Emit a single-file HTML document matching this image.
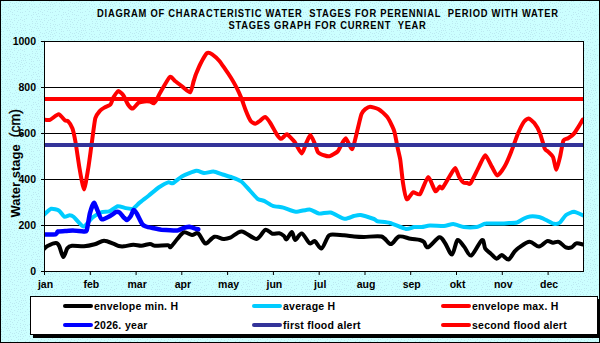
<!DOCTYPE html>
<html><head><meta charset="utf-8"><style>
html,body{margin:0;padding:0;width:600px;height:343px;overflow:hidden;background:#ccffff}
svg{display:block}
text{font-family:"Liberation Sans",sans-serif;font-weight:bold;fill:#000}
</style></head><body>
<svg width="600" height="343" viewBox="0 0 600 343">
<defs>
<pattern id="dots" width="30" height="30" patternUnits="userSpaceOnUse"><rect width="30" height="30" fill="#ccffff"/><g fill="#bce9f1"><rect x="0" y="8" width="1" height="1"/><rect x="0" y="26" width="1" height="1"/><rect x="1" y="1" width="1" height="1"/><rect x="1" y="4" width="1" height="1"/><rect x="1" y="15" width="1" height="1"/><rect x="1" y="19" width="1" height="1"/><rect x="1" y="29" width="1" height="1"/><rect x="2" y="6" width="1" height="1"/><rect x="2" y="9" width="1" height="1"/><rect x="2" y="17" width="1" height="1"/><rect x="2" y="21" width="1" height="1"/><rect x="2" y="23" width="1" height="1"/><rect x="2" y="27" width="1" height="1"/><rect x="3" y="1" width="1" height="1"/><rect x="3" y="12" width="1" height="1"/><rect x="3" y="14" width="1" height="1"/><rect x="4" y="4" width="1" height="1"/><rect x="4" y="7" width="1" height="1"/><rect x="4" y="27" width="1" height="1"/><rect x="5" y="12" width="1" height="1"/><rect x="5" y="19" width="1" height="1"/><rect x="5" y="23" width="1" height="1"/><rect x="5" y="25" width="1" height="1"/><rect x="6" y="6" width="1" height="1"/><rect x="6" y="14" width="1" height="1"/><rect x="6" y="21" width="1" height="1"/><rect x="6" y="28" width="1" height="1"/><rect x="7" y="0" width="1" height="1"/><rect x="7" y="16" width="1" height="1"/><rect x="7" y="19" width="1" height="1"/><rect x="7" y="23" width="1" height="1"/><rect x="7" y="26" width="1" height="1"/><rect x="8" y="7" width="1" height="1"/><rect x="8" y="10" width="1" height="1"/><rect x="8" y="13" width="1" height="1"/><rect x="8" y="28" width="1" height="1"/><rect x="9" y="0" width="1" height="1"/><rect x="9" y="4" width="1" height="1"/><rect x="9" y="16" width="1" height="1"/><rect x="9" y="19" width="1" height="1"/><rect x="10" y="2" width="1" height="1"/><rect x="10" y="6" width="1" height="1"/><rect x="10" y="11" width="1" height="1"/><rect x="10" y="21" width="1" height="1"/><rect x="10" y="24" width="1" height="1"/><rect x="10" y="26" width="1" height="1"/><rect x="11" y="9" width="1" height="1"/><rect x="11" y="19" width="1" height="1"/><rect x="12" y="3" width="1" height="1"/><rect x="12" y="12" width="1" height="1"/><rect x="12" y="14" width="1" height="1"/><rect x="12" y="22" width="1" height="1"/><rect x="12" y="27" width="1" height="1"/><rect x="13" y="6" width="1" height="1"/><rect x="13" y="24" width="1" height="1"/><rect x="14" y="3" width="1" height="1"/><rect x="14" y="10" width="1" height="1"/><rect x="14" y="14" width="1" height="1"/><rect x="14" y="18" width="1" height="1"/><rect x="14" y="20" width="1" height="1"/><rect x="14" y="27" width="1" height="1"/><rect x="15" y="0" width="1" height="1"/><rect x="15" y="5" width="1" height="1"/><rect x="16" y="2" width="1" height="1"/><rect x="16" y="7" width="1" height="1"/><rect x="16" y="15" width="1" height="1"/><rect x="16" y="18" width="1" height="1"/><rect x="16" y="24" width="1" height="1"/><rect x="17" y="11" width="1" height="1"/><rect x="17" y="22" width="1" height="1"/><rect x="17" y="27" width="1" height="1"/><rect x="17" y="29" width="1" height="1"/><rect x="18" y="3" width="1" height="1"/><rect x="18" y="6" width="1" height="1"/><rect x="18" y="9" width="1" height="1"/><rect x="18" y="15" width="1" height="1"/><rect x="18" y="20" width="1" height="1"/><rect x="19" y="1" width="1" height="1"/><rect x="20" y="4" width="1" height="1"/><rect x="20" y="6" width="1" height="1"/><rect x="20" y="9" width="1" height="1"/><rect x="20" y="12" width="1" height="1"/><rect x="20" y="19" width="1" height="1"/><rect x="20" y="23" width="1" height="1"/><rect x="20" y="25" width="1" height="1"/><rect x="20" y="27" width="1" height="1"/><rect x="21" y="0" width="1" height="1"/><rect x="21" y="2" width="1" height="1"/><rect x="21" y="17" width="1" height="1"/><rect x="22" y="4" width="1" height="1"/><rect x="22" y="8" width="1" height="1"/><rect x="22" y="12" width="1" height="1"/><rect x="22" y="20" width="1" height="1"/><rect x="22" y="28" width="1" height="1"/><rect x="23" y="0" width="1" height="1"/><rect x="23" y="6" width="1" height="1"/><rect x="23" y="24" width="1" height="1"/><rect x="24" y="3" width="1" height="1"/><rect x="24" y="15" width="1" height="1"/><rect x="24" y="19" width="1" height="1"/><rect x="24" y="21" width="1" height="1"/><rect x="24" y="26" width="1" height="1"/><rect x="25" y="0" width="1" height="1"/><rect x="25" y="5" width="1" height="1"/><rect x="25" y="11" width="1" height="1"/><rect x="25" y="24" width="1" height="1"/><rect x="25" y="28" width="1" height="1"/><rect x="26" y="2" width="1" height="1"/><rect x="26" y="15" width="1" height="1"/><rect x="26" y="18" width="1" height="1"/><rect x="27" y="9" width="1" height="1"/><rect x="27" y="25" width="1" height="1"/><rect x="28" y="14" width="1" height="1"/><rect x="29" y="3" width="1" height="1"/><rect x="29" y="6" width="1" height="1"/><rect x="29" y="11" width="1" height="1"/><rect x="29" y="24" width="1" height="1"/><rect x="29" y="29" width="1" height="1"/></g></pattern>
</defs>
<rect x="0" y="0" width="600" height="343" fill="url(#dots)"/>
<rect x="0.5" y="0.5" width="599" height="342" fill="none" stroke="#000" stroke-width="1"/>
<g transform="translate(97,0) scale(0.9,1)"><text x="0" y="17" font-size="10.4" xml:space="preserve" textLength="512.3" lengthAdjust="spacing">DIAGRAM OF CHARACTERISTIC WATER  STAGES FOR PERENNIAL  PERIOD WITH WATER</text></g>
<g transform="translate(228.5,0) scale(0.9,1)"><text x="0" y="29" font-size="10.4" xml:space="preserve" textLength="219.3" lengthAdjust="spacing">STAGES GRAPH FOR CURRENT  YEAR</text></g>
<clipPath id="pc"><rect x="45" y="42" width="538" height="229"/></clipPath>
<rect x="44.5" y="41.5" width="539" height="230" fill="#fff"/>
<g stroke="#000" stroke-width="1"><line x1="41" y1="87.5" x2="583.5" y2="87.5"/><line x1="41" y1="133.5" x2="583.5" y2="133.5"/><line x1="41" y1="179.5" x2="583.5" y2="179.5"/><line x1="41" y1="225.5" x2="583.5" y2="225.5"/>
<line x1="41" y1="41.5" x2="44" y2="41.5"/><line x1="41" y1="271.5" x2="44" y2="271.5"/><line x1="44.5" y1="271" x2="44.5" y2="275"/><line x1="90.3" y1="271" x2="90.3" y2="275"/><line x1="136.1" y1="271" x2="136.1" y2="275"/><line x1="181.8" y1="271" x2="181.8" y2="275"/><line x1="227.6" y1="271" x2="227.6" y2="275"/><line x1="273.4" y1="271" x2="273.4" y2="275"/><line x1="319.2" y1="271" x2="319.2" y2="275"/><line x1="365" y1="271" x2="365" y2="275"/><line x1="410.7" y1="271" x2="410.7" y2="275"/><line x1="456.5" y1="271" x2="456.5" y2="275"/><line x1="502.3" y1="271" x2="502.3" y2="275"/><line x1="548.1" y1="271" x2="548.1" y2="275"/></g>
<g font-size="10.5" text-anchor="end"><text x="36" y="45">1000</text><text x="36" y="91">800</text><text x="36" y="137">600</text><text x="36" y="183">400</text><text x="36" y="229">200</text><text x="36" y="275">0</text></g>
<g font-size="10.5" text-anchor="middle"><text x="45.5" y="288">jan</text><text x="91.3" y="288">feb</text><text x="137.1" y="288">mar</text><text x="182.8" y="288">apr</text><text x="228.6" y="288">may</text><text x="274.4" y="288">jun</text><text x="320.2" y="288">jul</text><text x="366" y="288">aug</text><text x="411.7" y="288">sep</text><text x="457.5" y="288">okt</text><text x="503.3" y="288">nov</text><text x="549.1" y="288">dec</text></g>
<text transform="translate(19.5,217.6) rotate(-90)" font-size="13" xml:space="preserve">Water stage  <tspan font-weight="normal" font-size="14" stroke="#000" stroke-width="0.35">(cm)</tspan></text>
<g clip-path="url(#pc)">
<g fill="none" stroke-linejoin="round" stroke-linecap="round" stroke-width="4">
<path stroke="#000" d="M44 249C44.6 248.5 46.2 246.6 48 245.7C49.8 244.8 54.3 242.9 56 243C57.7 243.1 58.2 244.2 59.3 246.3C60.4 248.4 62.1 256.7 63.3 257C64.5 257.3 66 250 67.3 248.3C68.6 246.6 69.5 246 72 245.7C74.5 245.4 80.6 246.5 84 246.3C87.4 246.1 91.7 245.1 94.7 244.3C97.7 243.5 101.2 240.8 104 240.7C106.8 240.6 111.1 242.9 113.3 243.7C115.5 244.5 117.1 245.6 118.7 246C120.3 246.4 121.8 246.5 124 246.3C126.2 246.1 130.7 244.8 133.3 244.7C135.9 244.6 138.8 245.8 141.3 245.7C143.8 245.6 148 243.9 150 243.9C152 243.9 152 245.5 154.7 245.7C157.4 245.9 165.6 245.1 168 245.3C170.4 245.5 169.3 247.9 170.7 247C172.1 246.1 175.3 241.2 177.3 239C179.3 236.8 181.8 232.9 184 232.3C186.2 231.7 189.9 234.8 192 235C194.1 235.2 196.2 232.2 198 233.3C199.8 234.4 202.7 240.8 204 242.3C205.3 243.8 205 244.1 206.6 243.3C208.2 242.5 212 237.4 214.5 236.7C217 236 220.9 238.8 223.3 238.9C225.7 239.1 227.5 238.8 230.3 237.7C233.1 236.6 237.8 231.2 241.7 231.4C245.6 231.6 253 239.1 256.5 238.9C260 238.7 262.9 230.6 265.3 229.8C267.7 229 270.2 233.2 272.3 233.7C274.4 234.2 277.5 232.9 279.3 233.2C281.1 233.5 282.9 235.1 284 236C285.1 236.9 285.4 239.9 286.6 239.3C287.8 238.7 290.6 232 291.9 232.1C293.2 232.2 293.7 239.8 295.2 240C296.7 240.2 299.5 232.9 301.7 233.4C303.9 233.9 307.6 242 309.6 243.2C311.6 244.4 313 240.4 314.8 241.2C316.6 242 319.5 249 321.4 248.5C323.3 248 325.9 240.1 327.3 238C328.7 235.9 328.1 235.1 330.6 234.7C333.1 234.3 340.5 235 344 235.3C347.5 235.6 351 236.2 354 236.5C357 236.8 359.9 237 364 237C368.1 237 377.5 235.4 381.5 236.5C385.5 237.6 388.2 244.1 390.8 244.1C393.4 244.1 396 237.3 399 236.5C402 235.7 407.5 238.3 410.6 238.8C413.8 239.3 418 239.5 420 240C422 240.5 422.8 240.9 424 242C425.2 243.1 425.7 248 428 247.3C430.3 246.6 436.8 237.9 439.3 237.3C441.9 236.7 443.1 240.4 445 243C446.9 245.6 450.1 254.9 452 254.5C453.9 254.1 455.7 241.2 457.5 240C459.3 238.8 461.9 244.2 464 246.5C466.1 248.8 468.6 256.5 471.3 255.5C474 254.5 479.9 241 482 240C484.1 239 484 246.7 485.3 248.7C486.6 250.7 488.9 252 490.6 253.5C492.3 255 495 258.5 496.7 258.7C498.4 258.9 500 255 501.8 255.1C503.6 255.2 506.6 260 508.5 259.5C510.4 259 512.9 253.4 514.5 251.6C516.1 249.8 516.9 248.9 519.2 247.4C521.5 245.9 526.6 241.9 529.6 241.8C532.6 241.7 536.4 246.6 539 246.5C541.6 246.4 545 241.7 547.1 241.1C549.2 240.5 551.2 242.6 553 242.7C554.8 242.8 556.9 241.1 558.8 241.8C560.7 242.5 563.9 246.6 565.8 247.4C567.7 248.2 570 248 571.6 247.4C573.2 246.8 574.5 243.8 576.3 243.4C578.1 243 582.2 244.4 583.3 244.6"/>
<path stroke="#00ccff" d="M44 214.7C44.7 214.1 49.7 209.2 51.2 208.8C52.7 208.4 57.8 209.9 59.1 210.7C60.4 211.5 63.2 216.2 64.3 216.7C65.3 217.2 68.7 215.3 69.6 215.3C70.5 215.3 72.1 215.6 73.5 216.7C74.9 217.8 81.5 226.4 83.4 226.5C85.3 226.6 90.8 218.7 92.6 217.3C94.4 215.9 100 212.7 101.7 212.1C103.4 211.5 107.6 212 109.2 211.4C110.8 210.8 116.1 206.5 117.7 206.2C119.3 205.9 124.1 207.8 125.6 208.1C127.1 208.4 131.4 209.3 132.8 208.8C134.2 208.3 137.8 204.2 139.4 202.9C141 201.6 146.6 197.3 148.6 195.7C150.6 194.1 157 188.6 159 187.3C161 186 166.9 182.8 168.3 182.4C169.7 182 171.6 183.7 173 183.1C174.4 182.5 180 177.4 182.3 176.2C184.6 175 194.1 171.1 196.3 170.8C198.5 170.5 202.3 173 204 173.1C205.7 173.2 211.4 171.4 213.3 171.5C215.2 171.6 220.7 173.9 222.6 174.5C224.5 175.1 230.1 176.6 232 177.3C233.9 178 239.6 180.2 241.3 181.5C243.1 182.8 247.9 188.4 249.5 190.1C251.1 191.8 256.1 197.7 257.6 198.8C259.1 199.9 263.1 200.4 264.6 201.1C266.1 201.8 270.9 205.2 272.8 205.8C274.7 206.5 281 207 283.3 207.6C285.6 208.2 293.1 211.6 295.7 211.8C298.3 212 307.3 209.2 309.6 209.4C311.9 209.6 316.9 213.3 319 213.6C321.1 213.9 328 212 330.6 212.5C333.2 213 342.3 218.5 344.6 218.8C346.9 219.2 352.3 216.4 353.9 216C355.5 215.6 358.7 214.7 360.7 215C362.7 215.3 372.3 218.4 374 219C375.7 219.6 375.7 220.9 377.3 221.3C378.9 221.7 387.1 222.2 390 223C392.9 223.8 403.6 228.6 406 229C408.4 229.4 412.4 227.2 414 227C415.6 226.8 420.4 227.2 422 227C423.6 226.8 427.8 225.6 430 225.5C432.2 225.4 441.7 226.1 444 226C446.3 225.9 451.3 224 453.3 224.1C455.3 224.2 461.5 226.8 463.8 227.1C466.1 227.4 474.4 227.4 476.6 227.1C478.8 226.8 483.4 223.9 486 223.6C488.6 223.2 500 223.7 502.3 223.6C504.6 223.5 507.5 223.1 509 223C510.5 222.9 515.5 222.9 517 222.5C518.5 222.1 522.7 219.1 524 218.5C525.3 217.9 528.5 216.7 530 216.5C531.5 216.3 537.4 216.7 539 217C540.6 217.3 544.5 219.3 546 220C547.5 220.7 552.7 223.6 554.1 223.8C555.5 224.1 558.8 223.4 560 222.5C561.2 221.6 564.6 216.1 566 215C567.4 213.9 572.3 211.8 574 211.8C575.7 211.9 582.4 215.1 583.3 215.5"/>
<path stroke="#ff0000" d="M44 119.7C44.6 119.7 48.5 120.3 50 119.8C51.5 119.3 57.1 114.2 58.6 114.3C60.1 114.4 64.1 119.8 65 120.5C65.9 121.2 67.2 120.4 68 121.2C68.8 122 71.8 126.7 72.6 128.8C73.3 130.9 74.8 138.1 75.5 142C76.2 145.9 78.6 162.8 79.4 167.6C80.2 172.3 83.1 189.5 84 189.5C84.9 189.5 87.5 172.4 88.3 168C89 163.6 90.8 150 91.5 145C92.2 140 94.5 121.7 95.3 118.3C96.1 114.9 99.1 111.9 100 110.8C100.9 109.7 103.7 108 104.7 107.4C105.8 106.8 109.6 105.5 110.5 104.5C111.4 103.5 112.6 98.8 113.4 97.5C114.2 96.2 117.1 91.3 118.1 91.1C119.1 90.9 122.3 93.9 123.3 95.2C124.3 96.5 127.1 103.2 128 104.5C128.9 105.8 131.6 108.8 132.7 108.6C133.8 108.4 137.3 103.5 138.5 102.8C139.7 102.1 143.1 101.5 144.3 101.4C145.5 101.3 149.3 101.4 150.2 101.6C151.1 101.8 153 103.6 153.7 103.3C154.4 103 156.6 99.7 157.2 98.7C157.8 97.7 158.7 95.2 160 93C161.3 90.8 168.3 78.2 169.8 77C171.3 75.8 173.8 80.1 175 81C176.2 81.9 180.5 85.2 182 86.3C183.5 87.4 189 92.8 190.2 92.3C191.4 91.8 193.1 82.8 193.7 81C194.3 79.2 195.3 75.7 196 74C196.7 72.3 199.4 65.8 200.5 63.7C201.6 61.6 205.7 54.1 206.9 53.2C208.1 52.3 211 53.5 212.2 54.3C213.4 55.1 217.9 59.3 219.2 60.8C220.5 62.3 223.8 67.2 225 68.9C226.2 70.6 229.6 75.6 230.8 77.5C232 79.4 235.5 85.5 236.6 87.6C237.7 89.7 240.4 95.8 241.3 98.1C242.2 100.4 245.1 108.7 246 111C246.9 113.3 249.7 119.5 250.6 120.8C251.5 122.1 254.4 123.8 255.3 123.8C256.2 123.8 259 121.5 260 120.8C261 120.1 264 116.7 265 116.9C266 117.1 269.3 121.4 270.4 123.1C271.5 124.8 275.3 132 276.3 133.6C277.3 135.2 279.9 138.5 280.7 138.8C281.5 139.1 283.4 136.9 284 136.5C284.6 136.1 286.1 133.9 287.2 134.4C288.2 134.9 293.1 139.9 294.5 141.8C295.9 143.7 300.5 153.4 301.7 153.5C302.9 153.6 305.4 144.8 306.3 143C307.2 141.2 309.5 135 310.4 135.1C311.2 135.2 314 141.9 314.8 143.6C315.6 145.3 317 151 318 152.2C319 153.4 323.6 155.1 324.8 155.5C326 155.9 328.6 156.5 329.9 156.1C331.2 155.7 336.6 152.6 337.7 151.5C338.8 150.4 340.3 146.6 341.1 145.3C341.9 144 344.7 137.9 345.8 138.3C346.9 138.7 351 149.9 352.2 149C353.4 148.1 356.8 132.5 357.7 129C358.6 125.5 360.7 116 361.5 114C362.3 112 364.4 109.9 365.3 109.2C366.2 108.5 368.7 106.7 370 106.7C371.3 106.7 376.9 108.2 378.6 109.2C380.3 110.2 385.8 115.2 387.1 116.8C388.4 118.4 391.1 123.8 391.8 125.3C392.5 126.8 393.9 129.7 394.5 132C395.1 134.3 397.2 145.8 397.8 148.6C398.4 151.4 399.8 156.6 400.3 160C400.8 163.4 402.4 179.1 403 183C403.6 186.9 405.8 198.3 406.8 199.2C407.8 200.1 411.7 192.8 413 192.3C414.3 191.8 418.5 195.6 420 194.1C421.5 192.6 426.6 177.4 428.1 177.1C429.6 176.8 434.1 190.2 435.3 191.1C436.5 192 439.1 186.8 439.8 186.5C440.5 186.2 441.4 189.2 442.4 188.2C443.4 187.1 448.5 178 449.8 176C451.1 174 454.3 168 455.2 168.1C456.1 168.2 458.4 175.7 459.2 177.1C460 178.5 462.5 181.9 463.3 182.5C464.1 183.1 466.6 182.9 467.3 183C468 183.1 469.3 184.9 470.5 183.3C471.7 181.7 477.5 169.4 479 166.6C480.5 163.8 484 155.2 485.3 155.2C486.6 155.2 490.6 164.6 491.8 166.6C493 168.6 496 175.6 497.3 175.6C498.6 175.6 503.2 169 504.6 166.6C506 164.2 510 154.8 511.3 151.5C512.6 148.2 516.8 136.5 518 133.6C519.2 130.7 522.8 123.5 523.8 122C524.8 120.5 527.5 118.4 528.5 118.5C529.5 118.6 533.1 121.6 534.3 123.1C535.5 124.6 539.1 131 540.1 133.6C541.1 136.2 544 147 544.8 148.8C545.6 150.6 547.5 151 548.3 151.8C549.1 152.6 552.2 155.2 553 157C553.8 158.8 555.7 169.8 556.4 169.8C557.1 169.8 559.3 159.9 560 157C560.7 154.1 562.6 142.5 563.4 140.6C564.2 138.7 567 139 568.1 138.3C569.2 137.6 573 134.8 574 133.6C575 132.4 577.7 128 578.6 126.6C579.5 125.2 582.4 120.3 582.8 119.6"/>
<path stroke="#0000ff" stroke-width="4.5" d="M44 234.4C45.2 234.4 54.4 234.5 55.8 234.2C57.2 233.9 56.9 231.8 57.8 231.5C58.7 231.2 63.5 231.2 65 231.1C66.5 231 71.1 230.6 72.9 230.6C74.7 230.6 82 231.5 83.4 231.5C84.8 231.5 86 232.2 86.7 230.4C87.4 228.6 89.2 216.2 89.9 213.4C90.6 210.7 93.2 203.3 93.9 202.9C94.6 202.5 96.3 207.8 97.1 209.4C97.9 211 100.3 218.7 101.7 219.3C103.1 219.9 109.8 216 111.2 215.3C112.6 214.6 114.9 212.4 115.7 212.1C116.5 211.8 118.9 212.2 119.7 212.7C120.5 213.2 122.9 216.6 123.6 217.3C124.3 218 126.2 220.1 126.9 220C127.6 219.9 130.1 217 130.8 216C131.5 215 132.9 210.4 133.5 210.1C134.1 209.8 135.8 212 136.7 213.4C137.5 214.8 141.1 222.6 142 223.9C142.9 225.2 144.8 226.1 145.9 226.5C147 226.9 151 227.7 152.5 228C154 228.3 158.8 229.4 161.3 229.7C163.8 229.9 175.2 230.6 177.3 230.5C179.4 230.4 181.5 228.7 182.7 228.3C183.9 227.9 188.3 226.9 189.3 226.8C190.3 226.8 192.1 227.6 193 227.8C193.9 228.1 197.8 229.2 198.3 229.3"/>
</g>
<line x1="44" y1="145" x2="583" y2="145" stroke="#333399" stroke-width="4"/>
<line x1="44" y1="99" x2="583" y2="99" stroke="#ff0000" stroke-width="4"/>
</g>
<rect x="44.5" y="41.5" width="539" height="230" fill="none" stroke="#000" stroke-width="1"/>
<rect x="33" y="299" width="567" height="39" fill="#000"/>
<rect x="30.5" y="296.5" width="567" height="38" fill="#fff" stroke="#000" stroke-width="1"/>
<g stroke-width="4" stroke-linecap="round">
<line x1="65" y1="306" x2="91" y2="306" stroke="#000"/>
<line x1="254" y1="306" x2="280" y2="306" stroke="#00ccff"/>
<line x1="443" y1="306" x2="469" y2="306" stroke="#ff0000"/>
<line x1="65" y1="325" x2="91" y2="325" stroke="#0000ff"/>
<line x1="254" y1="325" x2="280" y2="325" stroke="#333399"/>
<line x1="443" y1="325" x2="469" y2="325" stroke="#ff0000"/>
</g>
<g font-size="10.5" letter-spacing="0.25">
<text x="94" y="310">envelope min. H</text>
<text x="283" y="310">average H</text>
<text x="472" y="310">envelope max. H</text>
<text x="94" y="329" word-spacing="0.3">2026. year</text>
<text x="283" y="329">first flood alert</text>
<text x="472" y="329">second flood alert</text>
</g>
</svg>
</body></html>
